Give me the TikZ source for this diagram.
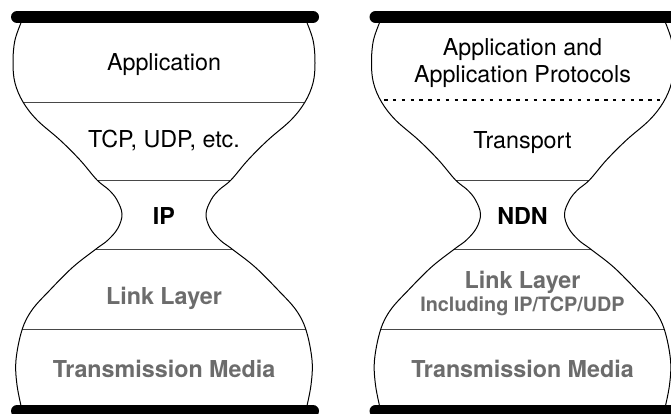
\documentclass[tikz,border=0pt]{standalone}
\usepackage{fontspec}
\setmainfont{TeX Gyre Heros}
\definecolor{txtgray}{RGB}{108,108,108}
\tikzset{
  bar/.style={line width=12pt, line cap=round},
  outline/.style={line width=1pt},
  divider/.style={line width=0.9pt, black!72},
  dotdiv/.style={line width=2pt, dash pattern=on 3.5pt off 5.3pt},
  lbl/.style={font=\fontsize{23.3}{28}\selectfont, inner sep=0pt, anchor=base},
  lblb/.style={lbl, font=\fontsize{23.3}{28}\selectfont\bfseries},
  lbls/.style={lbl, font=\fontsize{19.8}{24}\selectfont\bfseries},
  dim/.style={text=txtgray},
}
% #1: x of the glass axis, #2: the layer dividers (local coordinates)
\newcommand\hourglass[2]{%
  \begin{scope}[shift={(#1,0)}]
    \begin{scope}
      \clip plot[smooth,tension=.6] coordinates {(-141,18) (-149,40) (-151,63) (-149,83) (-141,102) (-127,120) (-104,140) (-84,160) (-67,180) (-55,190) (-47,200) (-42,214) (-46,228) (-56,240) (-68,249) (-91,267) (-114,290) (-132,310) (-142,330) (-148,360) (-147,385) (-142,410)}
        -- plot[smooth,tension=.6] coordinates {(142,410) (147,385) (148,360) (142,330) (132,310) (114,290) (91,267) (68,249) (56,240) (46,228) (42,214) (47,200) (55,190) (67,180) (84,160) (104,140) (127,120) (141,102) (149,83) (151,63) (149,40) (141,18)}
        -- cycle;
      #2
    \end{scope}
    \draw[outline] plot[smooth,tension=.6] coordinates {(-141,18) (-149,40) (-151,63) (-149,83) (-141,102) (-127,120) (-104,140) (-84,160) (-67,180) (-55,190) (-47,200) (-42,214) (-46,228) (-56,240) (-68,249) (-91,267) (-114,290) (-132,310) (-142,330) (-148,360) (-147,385) (-142,410)};
    \draw[outline] plot[smooth,tension=.6] coordinates {(141,18) (149,40) (151,63) (149,83) (141,102) (127,120) (104,140) (84,160) (67,180) (55,190) (47,200) (42,214) (46,228) (56,240) (68,249) (91,267) (114,290) (132,310) (142,330) (148,360) (147,385) (142,410)};
    \draw[bar] (-147,17) -- (149,17);
    \draw[bar] (-147,411) -- (149,411);
  \end{scope}}
\begin{document}
\begin{tikzpicture}[x=1pt, y=-1pt]
  \clip (0,0) rectangle (671,414);
  \fill[white] (0,0) rectangle (671,414);

  % IP stack
  \hourglass{164}{%
    \draw[divider] (-200,102) -- (200,102);
    \draw[divider] (-200,180) -- (200,180);
    \draw[divider] (-200,249) -- (200,249);
    \draw[divider] (-200,329) -- (200,329);}
  \node[lbl]       (ipapp)   at (164,71)  {Application};
  \node[lbl]       (iptrans) at (164,148) {TCP, UDP, etc.};
  \node[lblb]      (ipwaist) at (164,224) {IP};
  \node[lblb,dim]  (iplink)  at (164,304) {Link Layer};
  \node[lblb,dim]  (ipmedia) at (164,377) {Transmission Media};

  % NDN stack
  \hourglass{522.5}{%
    \draw[dotdiv]  (-200,100) -- (200,100);
    \draw[divider] (-200,180) -- (200,180);
    \draw[divider] (-200,249) -- (200,249);
    \draw[divider] (-200,329) -- (200,329);}
  \node[lbl]       (ndnappa)  at (522.5,56)  {Application and};
  \node[lbl]       (ndnappb)  at (522.5,83)  {Application Protocols};
  \node[lbl]       (ndntrans) at (522.5,149) {Transport};
  \node[lblb]      (ndnwaist) at (522.5,224) {NDN};
  \node[lblb,dim]  (ndnlink)  at (522.5,288) {Link Layer};
  \node[lbls,dim]  (ndnincl)  at (522.5,311) {Including IP/TCP/UDP};
  \node[lblb,dim]  (ndnmedia) at (522.5,377) {Transmission Media};
\end{tikzpicture}
\end{document}
